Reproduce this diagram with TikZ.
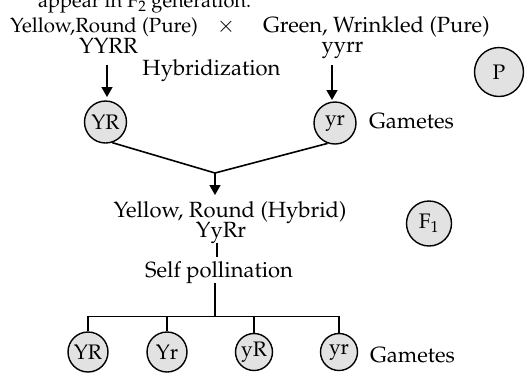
\documentclass[tikz,border=0pt]{standalone}
\usepackage[T1]{fontenc}
\usepackage{mathpazo}
\usetikzlibrary{arrows.meta}
\definecolor{gamfill}{HTML}{E2E2E2}
\tikzset{
  txt/.style={inner sep=0pt, font=\fontsize{22}{26}\selectfont},
  gam/.style={circle, draw=black, line width=1.4pt, fill=gamfill, inner sep=0pt, font=\fontsize{21}{25}\selectfont},
  conn/.style={line width=1.6pt},
  arr/.style={line width=1.6pt, -{Triangle[width=11pt,length=10pt]}}
}
\begin{document}
\begin{tikzpicture}[x=1pt,y=-1pt]
\useasboundingbox (0,0) rectangle (525,373);
% top texts
\node[txt, anchor=base west, font=\fontsize{20}{24}\selectfont] (top) at (38,7.5) {appear in F$_2$ generation.};
\node[txt, anchor=base west, font=\fontsize{20.5}{25}\selectfont] (pl) at (10,32) {Yellow,Round (Pure)};
\node[txt, anchor=base] (x) at (226,32) {$\times$};
\node[txt, anchor=base west] (pr) at (263,32) {Green, Wrinkled (Pure)};
\node[txt, anchor=base] (gl) at (108.5,53) {YYRR};
\node[txt, anchor=base] (gr) at (342.5,52) {yyrr};
\node[txt, anchor=base] (hyb) at (211.5,75) {Hybridization};
% gametes P
\node[gam, minimum size=42pt] (YR) at (105.5,122) {YR};
\node[gam, minimum size=42pt] (yr) at (335,123) {yr};
\node[txt, anchor=base west] (gam1) at (369,128) {Gametes};
\node[gam, minimum size=49pt] (P) at (499,72) {P};
\coordinate (a1s) at (107,65);
\coordinate (a1e) at (107,97);
\coordinate (a2s) at (332,65);
\coordinate (a2e) at (332,100);
\draw[arr] (a1s) -- (a1e);
\draw[arr] (a2s) -- (a2e);
% joint
\coordinate (J) at (215,173);
\coordinate (Jt) at (215,195);
\draw[conn] (YR.-72) -- (J) -- (yr.-110);
\draw[arr] (J) -- (Jt);
% F1
\node[txt, anchor=base] (hyb2) at (230,217) {Yellow, Round (Hybrid)};
\node[txt, anchor=base] (f1g) at (221,237) {YyRr};
\node[gam, minimum size=45pt] (F1) at (429,223.5) {F$_1$};
\node[txt, anchor=base] (self) at (219,277) {Self pollination};
\coordinate (s1) at (217,243);
\coordinate (s2) at (217,257);
\draw[conn] (s1) -- (s2);
\coordinate (b0) at (215,283);
\coordinate (b1) at (215,316.5);
\draw[conn] (b0) -- (b1);
% F2 gametes
\node[gam, minimum size=40pt] (g1) at (88,352) {YR};
\node[gam, minimum size=40pt] (g2) at (167,352) {Yr};
\node[gam, minimum size=37pt] (g3) at (254,352) {yR};
\node[gam, minimum size=37pt] (g4) at (339,352) {yr};
\node[txt, anchor=base west] (gam2) at (370,362) {Gametes};
\draw[conn] (g1.north) |- (b1) -| (g4.north);
\draw[conn] (g2.north) -- (g2.north |- b1);
\draw[conn] (g3.north) -- (g3.north |- b1);
\end{tikzpicture}
\end{document}
